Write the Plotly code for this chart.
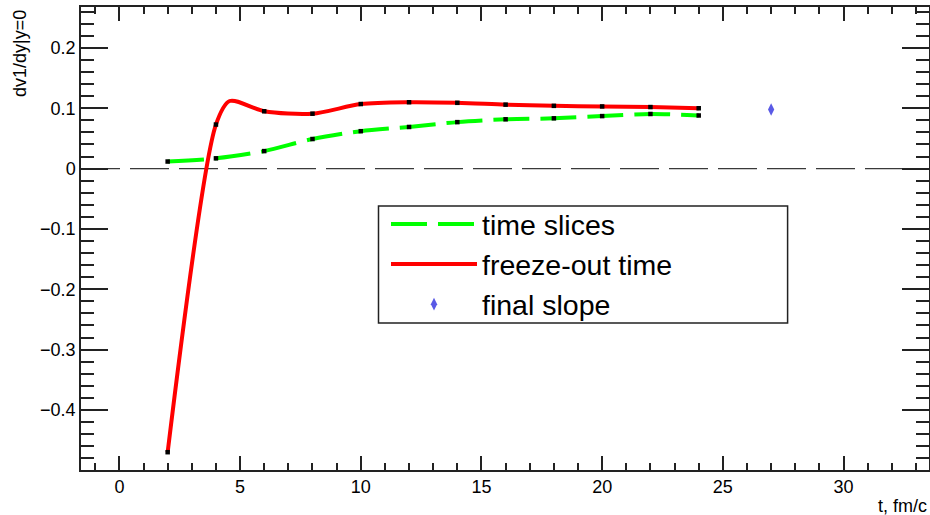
import plotly.graph_objects as go

# ---- data ----
freeze_t = [2, 4, 4.57, 6, 8, 10, 12, 14, 16, 18, 20, 22, 24]
freeze_v = [-0.47, 0.073, 0.112, 0.095, 0.091, 0.107, 0.110, 0.109, 0.106, 0.104, 0.103, 0.102, 0.100]

slice_t = [2, 4, 6, 8, 10, 12, 14, 16, 18, 20, 22, 24]
slice_v = [0.0117, 0.017, 0.029, 0.049, 0.062, 0.069, 0.077, 0.0817, 0.0833, 0.087, 0.0905, 0.088]

final_t = [27]
final_v = [0.098]

series_names = ["time slices", "freeze-out time", "final slope"]
x_title = "t, fm/c"
y_title = "dv1/dy|y=0"

X_RANGE = [-1.59, 33.54]
Y_RANGE = [-0.4995, 0.2678]

FONT = "Liberation Sans, Arial, sans-serif"
AX = "#222222"
L, R, T, B = 81, 1, 7, 45
PW, PH = 930 - L - R, 515 - T - B

fig = go.Figure()

fig.add_trace(go.Scatter(
    x=slice_t, y=slice_v, mode="lines", name=series_names[0],
    line=dict(color="#00ff00", width=4, dash="36px,11px", shape="spline", smoothing=0.8),
    legendgroup="a"))
fig.add_trace(go.Scatter(
    x=freeze_t, y=freeze_v, mode="lines", name=series_names[1],
    line=dict(color="#ff0000", width=4, shape="spline", smoothing=0.8),
    legendgroup="b"))

# black point markers (measured points)
mk_t = [t for t in freeze_t if float(t).is_integer()]
mk_v = [v for t, v in zip(freeze_t, freeze_v) if float(t).is_integer()]
fig.add_trace(go.Scatter(x=slice_t, y=slice_v, mode="markers", showlegend=False,
                         hoverinfo="skip",
                         marker=dict(symbol="square", size=4.5, color="black")))
fig.add_trace(go.Scatter(x=mk_t, y=mk_v, mode="markers", showlegend=False,
                         hoverinfo="skip",
                         marker=dict(symbol="square", size=4.5, color="black")))

fig.add_trace(go.Scatter(
    x=final_t, y=final_v, mode="markers", name=series_names[2],
    marker=dict(symbol="diamond-tall", size=9, color="#5a5ae6"),
    legendgroup="c"))

# invisible trace that anchors the mirrored (top/right) tick axes
fig.add_trace(go.Scatter(x=final_t, y=final_v, xaxis="x2", yaxis="y2", mode="markers",
                         marker=dict(opacity=0), showlegend=False, hoverinfo="skip"))

# zero reference line
fig.add_shape(type="line", xref="paper", yref="y", x0=0, x1=1, y0=0, y1=0,
              line=dict(color="#3a3a3a", width=1.3, dash="39px,10px"), layer="below")

# legend box
fig.add_shape(type="rect", xref="paper", yref="paper",
              x0=(378.5 - L) / PW, x1=(787.6 - L) / PW,
              y0=1 - (323 - T) / PH, y1=1 - (206 - T) / PH,
              line=dict(color="#222222", width=1.5), fillcolor="rgba(0,0,0,0)", layer="above")

common = dict(showgrid=False, zeroline=False, showline=True, linecolor=AX, linewidth=1.5,
              ticks="inside", tickwidth=1.5, tickcolor=AX, automargin=False)

fig.update_layout(
    width=930, height=515,
    margin=dict(l=L, r=R, t=T, b=B, autoexpand=False),
    paper_bgcolor="white", plot_bgcolor="white",
    font=dict(family=FONT, size=18, color="black"),
    showlegend=True,
    legend=dict(
        x=(386 - L) / PW, y=1 - (199 - T) / PH, xanchor="left", yanchor="top",
        bgcolor="rgba(255,255,255,0)", borderwidth=0,
        font=dict(family=FONT, size=28.5, color="black"),
        itemwidth=86, tracegroupgap=0, traceorder="grouped",
    ),
    xaxis=dict(
        range=X_RANGE, ticklen=14, dtick=5, tick0=0,
        tickfont=dict(family=FONT, size=18, color="black"),
        minor=dict(ticks="inside", ticklen=7, tickwidth=1.5, tickcolor=AX, dtick=1, tick0=0),
        **common,
    ),
    yaxis=dict(
        range=Y_RANGE, ticklen=27, dtick=0.1, tick0=0,
        tickfont=dict(family=FONT, size=18, color="black"),
        minor=dict(ticks="inside", ticklen=13, tickwidth=1.5, tickcolor=AX, dtick=0.02, tick0=0),
        **common,
    ),
    xaxis2=dict(
        range=X_RANGE, overlaying="x", side="top", anchor="y2", ticklen=14, dtick=5, tick0=0,
        showticklabels=False,
        minor=dict(ticks="inside", ticklen=7, tickwidth=1.5, tickcolor=AX, dtick=1, tick0=0),
        **common,
    ),
    yaxis2=dict(
        range=Y_RANGE, overlaying="y", side="right", anchor="x2", ticklen=27, dtick=0.1, tick0=0,
        showticklabels=False,
        minor=dict(ticks="inside", ticklen=13, tickwidth=1.5, tickcolor=AX, dtick=0.02, tick0=0),
        **common,
    ),
    annotations=[
        dict(text=x_title, xref="paper", yref="paper", x=1, y=-(494 - (515 - B)) / PH,
             xanchor="right", yanchor="top", showarrow=False,
             font=dict(family=FONT, size=18, color="black")),
        dict(text=y_title, xref="paper", yref="paper", x=(19.5 - L) / PW, y=1 - (8 - T) / PH,
             xanchor="center", yanchor="top", textangle=-90, showarrow=False,
             font=dict(family=FONT, size=18, color="black")),
    ],
)

fig.write_html("out.html", config={"displayModeBar": False},
               post_script="document.body.style.margin='0';document.body.style.overflow='hidden';")
